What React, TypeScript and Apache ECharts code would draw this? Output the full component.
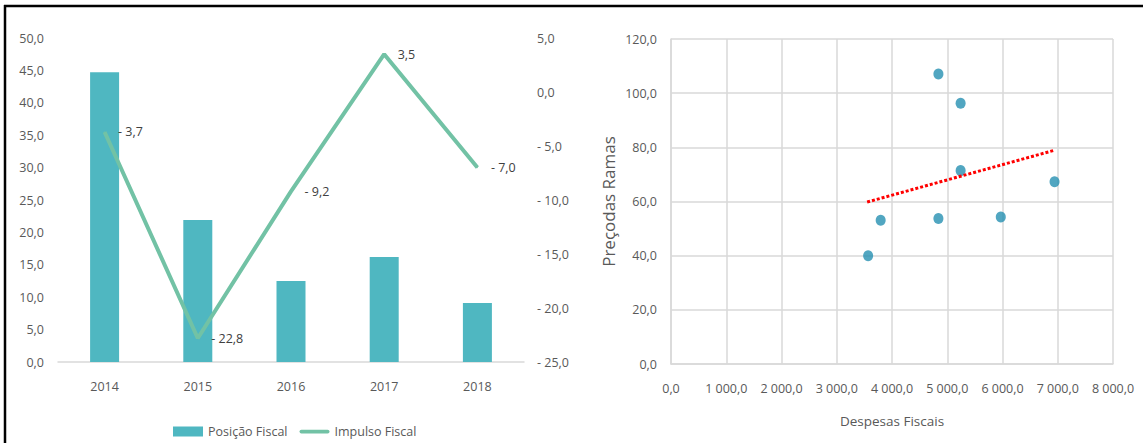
import React, { useEffect, useRef } from "react";
import * as echarts from "echarts";

const years = ["2014", "2015", "2016", "2017", "2018"];
const posicaoFiscal = [44.7, 21.9, 12.5, 16.2, 9.1];
const impulsoFiscal = [-3.7, -22.8, -9.2, 3.5, -7.0];

const despesasFiscais = [4840, 5242, 5242, 6942, 3795, 4840, 5969, 3568];
const precosRamas = [107.1, 96.3, 71.4, 67.3, 53.1, 53.7, 54.3, 40.0];
const trendLine = [
  [3550, 59.8],
  [6920, 78.8],
];

const FONT = "'Open Sans', sans-serif";
const TEXT = "#595959";
const GRID = "#d9d9d9";
const LINE_COLOR = "#72c2a5";

function fmt(v: number): string {
  const neg = v < 0;
  const a = Math.abs(v);
  const fixed = a.toFixed(1);
  const [intPart, dec] = fixed.split(".");
  const withSep = intPart.replace(/\B(?=(\d{3})+(?!\d))/g, " ");
  return (neg ? "- " : "") + withSep + "," + dec;
}

export default function App() {
  const ref = useRef<HTMLDivElement>(null);
  useEffect(() => {
    if (!ref.current) return;
    const chart = echarts.init(ref.current, undefined, { renderer: "svg" });
    const scatterData = despesasFiscais.map((x, i) => [x, precosRamas[i]]);
    chart.setOption({
      animation: false,
      textStyle: { fontFamily: FONT },
      graphic: [
        { type: "line", shape: { x1: 4, y1: 6, x2: 1143, y2: 6 }, style: { stroke: "#000", lineWidth: 2.5 } },
        { type: "line", shape: { x1: 5, y1: 5, x2: 5, y2: 443 }, style: { stroke: "#000", lineWidth: 2.5 } },
      ],
      legend: {
        left: 168,
        top: 420,
        itemWidth: 30,
        itemHeight: 10,
        itemGap: 12,
        textStyle: { color: TEXT, fontSize: 12.5, fontFamily: FONT },
        data: [
          { name: "Posição Fiscal", icon: "rect" },
          { name: "Impulso Fiscal", icon: "path://M2,0 H30 A2,2 0 0 1 30,4 H2 A2,2 0 0 1 2,0 Z" },
        ],
      },
      grid: [
        { left: 58, right: 1143 - 524, top: 38, bottom: 443 - 362 },
        { left: 671, right: 1143 - 1113, top: 39, bottom: 443 - 364 },
      ],
      xAxis: [
        {
          type: "category",
          gridIndex: 0,
          data: years,
          axisTick: { show: false },
          axisLine: { lineStyle: { color: GRID, width: 1.5 } },
          axisLabel: { color: TEXT, fontSize: 12.5, margin: 18, fontFamily: FONT },
        },
        {
          type: "value",
          gridIndex: 1,
          min: 0,
          max: 8000,
          interval: 1000,
          name: "Despesas Fiscais",
          nameLocation: "middle",
          nameGap: 50,
          nameTextStyle: { color: TEXT, fontSize: 13.5, fontFamily: FONT },
          axisTick: { show: false },
          axisLine: { show: true, lineStyle: { color: GRID, width: 1.5 } },
          splitLine: { show: true, lineStyle: { color: GRID, width: 1.5 } },
          axisLabel: { color: TEXT, fontSize: 12.5, margin: 18, formatter: (v: number) => fmt(v), fontFamily: FONT },
        },
      ],
      yAxis: [
        {
          type: "value",
          gridIndex: 0,
          min: 0,
          max: 50,
          interval: 5,
          axisTick: { show: false },
          axisLine: { show: false },
          splitLine: { show: false },
          axisLabel: { color: TEXT, fontSize: 12.5, margin: 14, formatter: (v: number) => fmt(v), fontFamily: FONT },
        },
        {
          type: "value",
          gridIndex: 0,
          position: "right",
          min: -25,
          max: 5,
          interval: 5,
          axisTick: { show: false },
          axisLine: { show: false },
          splitLine: { show: false },
          axisLabel: { color: TEXT, fontSize: 12.5, margin: 13, formatter: (v: number) => fmt(v), fontFamily: FONT },
        },
        {
          type: "value",
          gridIndex: 1,
          min: 0,
          max: 120,
          interval: 20,
          name: "Preçodas Ramas",
          nameLocation: "middle",
          nameGap: 54,
          nameTextStyle: { color: TEXT, fontSize: 17, fontFamily: FONT },
          axisTick: { show: false },
          axisLine: { show: true, lineStyle: { color: GRID, width: 1.5 } },
          splitLine: { show: true, lineStyle: { color: GRID, width: 1.5 } },
          axisLabel: { color: TEXT, fontSize: 12.5, margin: 14, formatter: (v: number) => fmt(v), fontFamily: FONT },
        },
      ],
      series: [
        {
          name: "Posição Fiscal",
          type: "bar",
          xAxisIndex: 0,
          yAxisIndex: 0,
          data: posicaoFiscal,
          barWidth: 29,
          itemStyle: { color: "#4fb7c1" },
        },
        {
          name: "Impulso Fiscal",
          type: "line",
          xAxisIndex: 0,
          yAxisIndex: 1,
          data: impulsoFiscal,
          symbol: "circle",
          symbolSize: 1,
          showSymbol: true,
          lineStyle: { color: LINE_COLOR, width: 4 },
          itemStyle: { color: LINE_COLOR },
          label: {
            show: true,
            position: "right",
            distance: 13,
            color: "#404040",
            fontSize: 12.5,
            fontFamily: FONT,
            formatter: (p: any) => fmt(p.value),
          },
        },
        {
          name: "scatter",
          type: "scatter",
          xAxisIndex: 1,
          yAxisIndex: 2,
          data: scatterData,
          symbol: "circle",
          symbolSize: [10, 11],
          itemStyle: { color: "#2690b2" },
        },
        {
          name: "trend",
          type: "line",
          xAxisIndex: 1,
          yAxisIndex: 2,
          data: trendLine,
          symbol: "none",
          lineStyle: { color: "#ff0000", width: 3, type: [3, 2] },
        },
      ],
    });
    return () => chart.dispose();
  }, []);
  return (
    <div
      ref={ref}
      style={{ position: "fixed", left: 0, top: 0, width: 1143, height: 443, background: "#fff" }}
    />
  );
}
